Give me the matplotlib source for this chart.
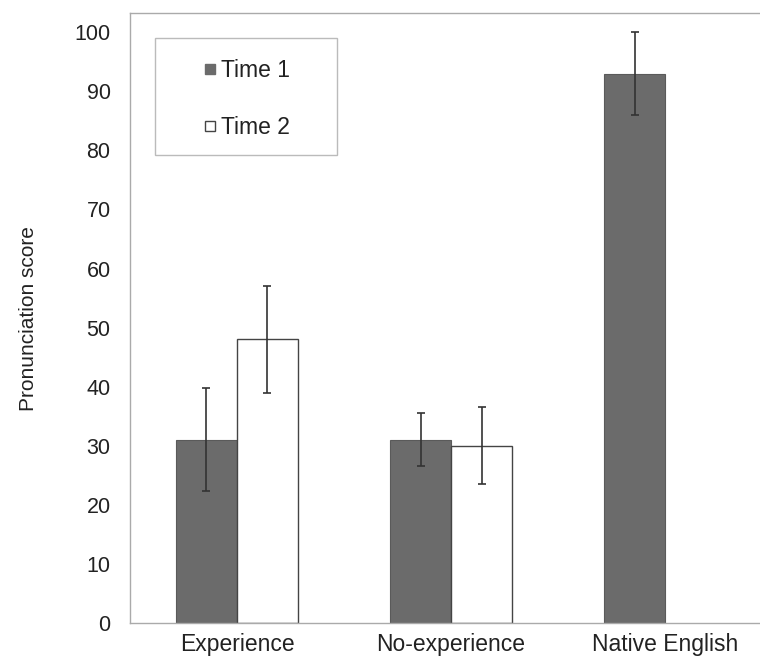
import numpy as np
import matplotlib.pyplot as plt
from matplotlib.lines import Line2D
from matplotlib.patches import Rectangle

plt.rcParams['font.family'] = ['Liberation Sans', 'DejaVu Sans']

groups = ['Experience', 'No-experience', 'Native English']
time1 = [31, 31, 93]
time1_err = [8.7, 4.5, 7]
time2 = [48, 30, np.nan]
time2_err = [9, 6.5, np.nan]
yticks = list(range(0, 101, 10))

fig = plt.figure(figsize=(7.6, 6.63), dpi=100)
ax = fig.add_axes([0.171, 0.0603, 0.845, 0.9197])

x = np.arange(len(groups))
w = 0.285
ekw = dict(ecolor='#333333', elinewidth=1.2, capsize=3, capthick=1.2)
ax.bar(x - w / 2, time1, w, color='#6b6b6b', edgecolor='#5a5a5a', linewidth=0.8,
       yerr=time1_err, error_kw=ekw)
ax.bar(x + w / 2, time2, w, color='white', edgecolor='#444444', linewidth=1.0,
       yerr=time2_err, error_kw=ekw)

ax.set_xlim(-0.5, 2.5)
ax.set_ylim(0, 103.2)
ax.set_yticks(yticks)
ax.set_xticks(x)
ax.set_xticklabels(groups, fontsize=16.5, color='#222222')
ax.tick_params(axis='y', labelsize=15.5, colors='#222222', length=0, pad=14)
ax.tick_params(axis='x', length=0, pad=7)
for s in ax.spines.values():
    s.set_color('#aaaaaa')
    s.set_linewidth(1.0)
ax.set_ylabel('Pronunciation score', fontsize=15, color='#222222', labelpad=26)

# legend box is wider than the entries, so draw the frame separately
ax.add_patch(Rectangle((0.039, 0.767), 0.2835, 0.192, transform=ax.transAxes,
                       facecolor='white', edgecolor='#bbbbbb', linewidth=1.0, zorder=4))
handles = [Line2D([], [], marker='s', linestyle='none', markersize=7,
                  markerfacecolor='#6b6b6b', markeredgecolor='#6b6b6b'),
           Line2D([], [], marker='s', linestyle='none', markersize=7,
                  markerfacecolor='white', markeredgecolor='#444444')]
leg = ax.legend(handles, ['Time 1', 'Time 2'], loc='center',
                bbox_to_anchor=(0.173, 0.859), fontsize=16.5, frameon=False,
                labelspacing=1.5, handletextpad=-0.3, handlelength=1.6,
                borderpad=0, borderaxespad=0)
leg.set_zorder(5)
for t in leg.get_texts():
    t.set_color('#222222')

fig.savefig('out.png', dpi=100)
